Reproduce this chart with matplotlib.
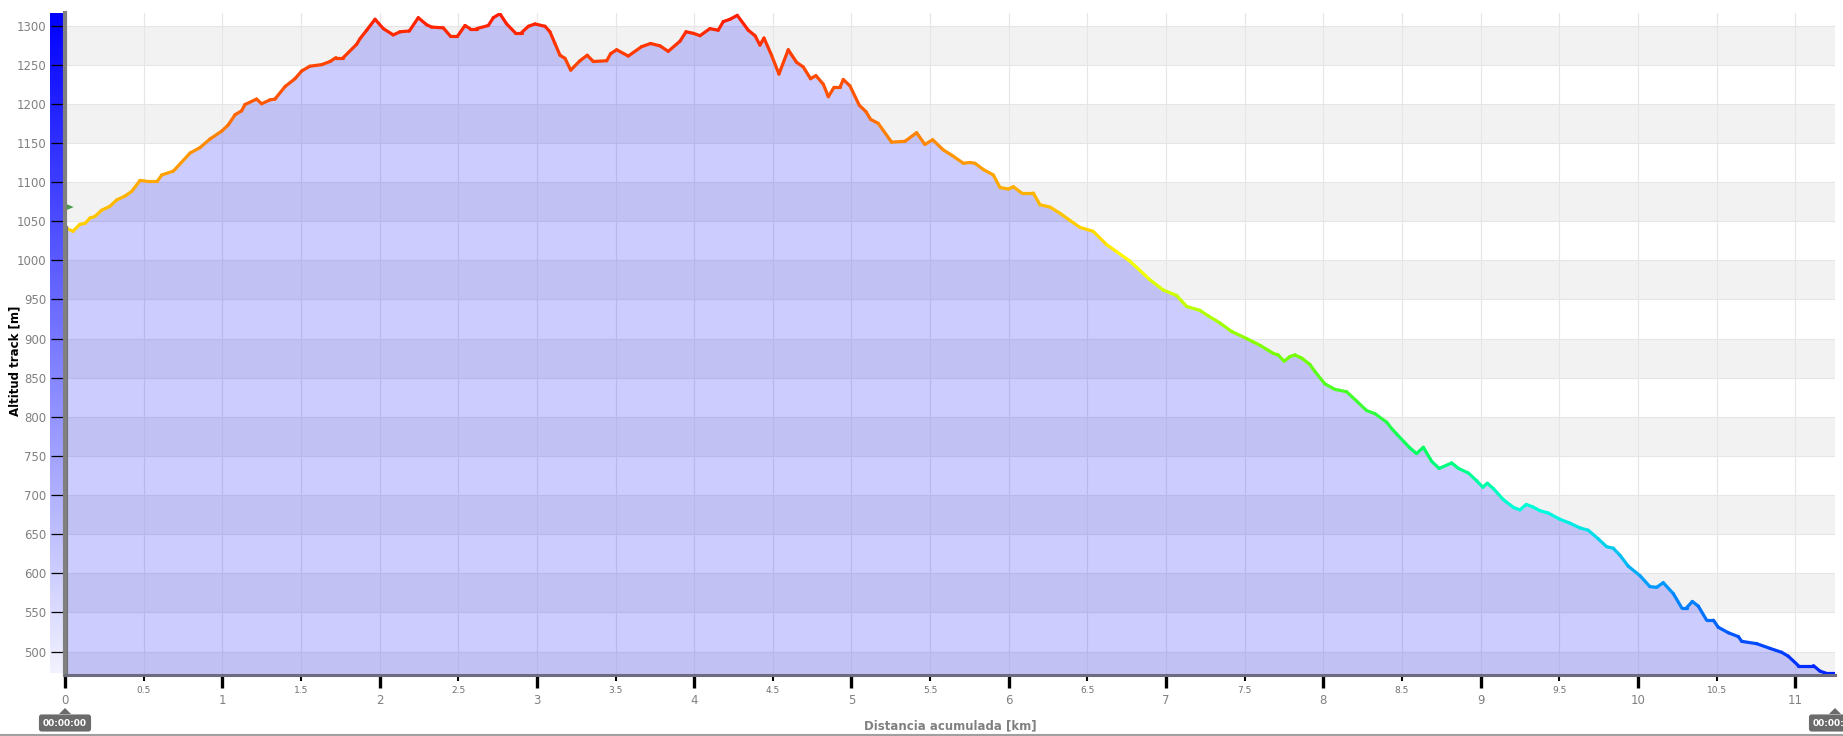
import numpy as np
import matplotlib
matplotlib.use("Agg")
import matplotlib.pyplot as plt
from matplotlib.collections import LineCollection
from matplotlib.colors import LinearSegmentedColormap, Normalize
from matplotlib.patches import Polygon
from matplotlib.lines import Line2D

# track profile: distance [km] / altitude [m]
km = [0.0, 0.05, 0.095, 0.127, 0.159, 0.19, 0.233, 0.286, 0.328, 0.381, 0.424, 0.477,
      0.519, 0.587, 0.615, 0.689, 0.795, 0.858, 0.922, 0.996, 1.038, 1.081, 1.123, 1.144,
      1.218, 1.25, 1.303, 1.335, 1.399, 1.462, 1.505, 1.557, 1.632, 1.685, 1.723, 1.769,
      1.854, 1.875, 1.918, 1.971, 2.024, 2.087, 2.13, 2.189, 2.246, 2.299, 2.331, 2.405,
      2.452, 2.494, 2.543, 2.575, 2.617, 2.691, 2.723, 2.765, 2.808, 2.861, 2.903, 2.946,
      2.988, 3.052, 3.083, 3.115, 3.147, 3.179, 3.215, 3.274, 3.32, 3.359, 3.444, 3.469,
      3.507, 3.581, 3.666, 3.723, 3.783, 3.835, 3.91, 3.948, 3.995, 4.037, 4.1, 4.153,
      4.185, 4.228, 4.274, 4.344, 4.387, 4.418, 4.444, 4.492, 4.539, 4.598, 4.651, 4.694,
      4.74, 4.774, 4.821, 4.853, 4.889, 4.927, 4.948, 4.99, 5.05, 5.092, 5.122, 5.17,
      5.255, 5.34, 5.414, 5.467, 5.516, 5.584, 5.64, 5.711, 5.753, 5.785, 5.838, 5.902,
      5.944, 5.997, 6.029, 6.082, 6.156, 6.198, 6.262, 6.326, 6.389, 6.453, 6.537, 6.622,
      6.686, 6.77, 6.898, 6.982, 7.067, 7.131, 7.215, 7.268, 7.342, 7.417, 7.512, 7.6,
      7.682, 7.713, 7.751, 7.788, 7.82, 7.862, 7.914, 7.946, 8.01, 8.074, 8.148, 8.212,
      8.275, 8.328, 8.403, 8.434, 8.466, 8.551, 8.593, 8.636, 8.689, 8.736, 8.816, 8.859,
      8.923, 8.976, 9.014, 9.043, 9.082, 9.145, 9.21, 9.25, 9.29, 9.33, 9.377, 9.43,
      9.504, 9.568, 9.631, 9.684, 9.748, 9.801, 9.843, 9.886, 9.939, 10.013, 10.076, 10.119,
      10.161, 10.225, 10.278, 10.31, 10.346, 10.384, 10.437, 10.48, 10.511, 10.575, 10.639, 10.66,
      10.756, 10.84, 10.914, 10.956, 11.02, 11.116, 11.157, 11.2, 11.253]
alt = [1042, 1037, 1046, 1047, 1054, 1056, 1064, 1069, 1077, 1082, 1088, 1102,
       1101, 1101, 1109, 1114, 1137, 1144, 1155, 1165, 1173, 1186, 1191, 1199,
       1206, 1200, 1205, 1206, 1222, 1232, 1242, 1248, 1250, 1254, 1259, 1259,
       1276, 1283, 1294, 1308, 1296, 1288, 1292, 1293, 1310, 1301, 1298, 1297,
       1286, 1286, 1300, 1296, 1296, 1300, 1310, 1315, 1302, 1291, 1291, 1299,
       1302, 1299, 1292, 1277, 1262, 1258, 1243, 1255, 1262, 1254, 1255, 1264,
       1269, 1261, 1273, 1277, 1274, 1267, 1280, 1292, 1290, 1287, 1296, 1294,
       1305, 1308, 1313, 1294, 1287, 1275, 1284, 1262, 1238, 1269, 1253, 1247,
       1232, 1236, 1225, 1209, 1221, 1221, 1231, 1223, 1198, 1190, 1180, 1175,
       1151, 1152, 1163, 1148, 1154, 1141, 1134, 1124, 1125, 1124, 1116, 1109,
       1093, 1091, 1094, 1086, 1086, 1071, 1068, 1060, 1051, 1042, 1037, 1020,
       1011, 999, 975, 962, 955, 941, 936, 929, 920, 909, 900, 891,
       881, 879, 871, 877, 879, 875, 867, 858, 842, 835, 832, 820,
       808, 804, 793, 785, 778, 760, 753, 761, 743, 734, 741, 734,
       728, 718, 710, 715, 708, 694, 684, 681, 688, 685, 680, 677,
       669, 664, 658, 655, 644, 634, 632, 623, 609, 597, 583, 582,
       588, 574, 556, 556, 564, 558, 540, 540, 531, 524, 519, 513,
       510, 504, 499, 494, 482, 482, 475, 472, 472]

# altitude -> line colour
color_alt = [470, 580, 680, 750, 880, 950, 1000, 1040, 1090, 1150, 1200, 1250, 1316]
color_hex = ['#0022ff', '#0096ff', '#00ffdd', '#00ff66', '#77ff00', '#c8ff00', '#ffff00',
             '#ffd200', '#ffaf00', '#ff8c00', '#ff5a00', '#ff4600', '#ff1a00']

y_ticks = list(range(500, 1301, 50))
x_major = list(range(0, 12))
x_minor = [i + 0.5 for i in range(0, 11)]

W, H = 1843, 736
Y0, Y1 = 470, 1316
X1 = 11.253


def fx(x):
    return x / W


def fy(y):
    return 1 - y / H


fig = plt.figure(figsize=(W / 100, H / 100), dpi=100)
fig.patch.set_facecolor('white')

# colour strip left of the axis
cax = fig.add_axes([fx(50), fy(673), 13 / W, 660 / H], zorder=0)
grad = np.linspace(0, 1, 256).reshape(-1, 1)
strip = LinearSegmentedColormap.from_list('strip', ['#0000ff', '#f2f2ff'])
cax.imshow(grad, aspect='auto', cmap=strip, origin='upper')
cax.set_axis_off()

ax = fig.add_axes([fx(65), fy(675), (1835 - 65) / W, (675 - 13) / H], zorder=1)
ax.set_xlim(0, X1)
ax.set_ylim(Y0, Y1)

# alternating bands
for lo in range(450, 1300, 100):
    ax.axhspan(lo, lo + 50, color='#f2f2f2', lw=0, zorder=0)

ax.set_axisbelow(True)
ax.set_xticks(x_major)
ax.set_xticklabels([str(v) for v in x_major])
ax.set_xticks(x_minor, minor=True)
ax.set_xticklabels([f'{v:g}' for v in x_minor], minor=True)
ax.set_yticks(y_ticks)
ax.set_yticklabels([str(v) for v in y_ticks])
ax.grid(True, which='both', axis='x', color='#e6e6e6', lw=0.8)
ax.grid(True, which='major', axis='y', color='#e6e6e6', lw=0.8)

ax.fill_between(km, alt, Y0, color=(0, 0, 1, 0.2), lw=0, zorder=2)

pts = np.column_stack([km, alt])
segs = np.stack([pts[:-1], pts[1:]], axis=1)
mid = (np.array(alt[:-1]) + np.array(alt[1:])) / 2
cmap = LinearSegmentedColormap.from_list(
    'alt', [((a - color_alt[0]) / (color_alt[-1] - color_alt[0]), c) for a, c in zip(color_alt, color_hex)])
lc = LineCollection(segs, colors=cmap(Normalize(color_alt[0], color_alt[-1])(mid)),
                    lw=2.3, capstyle='round', joinstyle='round', zorder=3)
ax.add_collection(lc)

# start marker + flag
ax.plot([0.01, 0.01], [Y0, 1044], color='#707070', lw=0.8, zorder=3)
ax.add_patch(Polygon([(0.008, 1072), (0.055, 1068), (0.008, 1064)], closed=True,
                     color='#4c9a4c', lw=0, zorder=4, clip_on=False))

for s in ['top', 'right']:
    ax.spines[s].set_visible(False)
ax.spines['left'].set_color('#808080')
ax.spines['left'].set_linewidth(3)
ax.spines['bottom'].set_color('#6c6c7e')
ax.spines['bottom'].set_linewidth(2.2)
ax.spines['left'].set_zorder(5)
ax.spines['bottom'].set_zorder(5)

ax.tick_params(axis='y', length=10, width=0.9, color='black', labelcolor='#808080',
               labelsize=8.5, pad=3.6)
ax.tick_params(axis='x', which='major', length=9.4, width=2.4, color='black',
               labelcolor='#808080', labelsize=8.5, pad=4.3)
ax.tick_params(axis='x', which='minor', length=4.3, width=1.5, color='black',
               labelcolor='#707070', labelsize=6.5, pad=3.6)

fig.text(fx(15), fy(361), 'Altitud track [m]', rotation=90, ha='center', va='center',
         fontsize=8.5, weight='bold', color='black')
fig.text(fx(950), fy(726), 'Distancia acumulada [km]', ha='center', va='center',
         fontsize=8.5, weight='bold', color='#808080')

# time badges
for xp in (65, 1835):
    fig.text(fx(xp), fy(723), '00:00:00', ha='center', va='center', color='white',
             fontsize=6.5, weight='bold',
             bbox=dict(boxstyle='round,pad=0.45,rounding_size=0.3', fc='#6b6b6b', ec='none'))
    fig.patches.append(Polygon([(fx(xp - 6), fy(714)), (fx(xp), fy(708)), (fx(xp + 6), fy(714))],
                               closed=True, transform=fig.transFigure, color='#6b6b6b', lw=0))

fig.lines.append(Line2D([0, 1], [fy(734.5), fy(734.5)], transform=fig.transFigure,
                        color='#a0a0a0', lw=1.5))

fig.savefig('out.png', dpi=100)
